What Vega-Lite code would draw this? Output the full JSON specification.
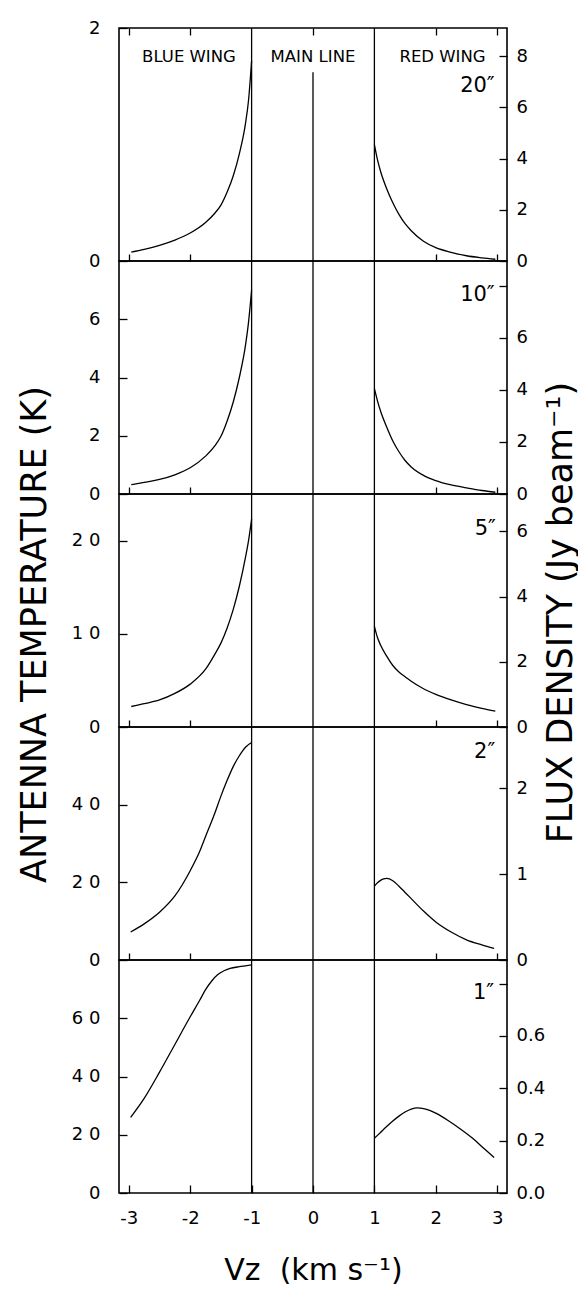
{
  "$schema": "https://vega.github.io/schema/vega-lite/v6.json",
  "background": "white",
  "padding": {"left": 16, "top": 18, "right": 0, "bottom": 0},
  "spacing": 0,
  "bounds": "flush",
  "datasets": {
    "curves": [
      {"p":1,"wing":"blue","v":-2.96,"t":0.077},{"p":1,"wing":"blue","v":-2.75,"t":0.10},{"p":1,"wing":"blue","v":-2.5,"t":0.135},{"p":1,"wing":"blue","v":-2.25,"t":0.18},{"p":1,"wing":"blue","v":-2.0,"t":0.24},{"p":1,"wing":"blue","v":-1.75,"t":0.33},{"p":1,"wing":"blue","v":-1.6,"t":0.41},{"p":1,"wing":"blue","v":-1.5,"t":0.48},{"p":1,"wing":"blue","v":-1.4,"t":0.59},{"p":1,"wing":"blue","v":-1.3,"t":0.73},{"p":1,"wing":"blue","v":-1.2,"t":0.92},{"p":1,"wing":"blue","v":-1.1,"t":1.18},{"p":1,"wing":"blue","v":-1.05,"t":1.38},{"p":1,"wing":"blue","v":-1.0,"t":1.72},
      {"p":1,"wing":"red","v":1.0,"t":1.0},{"p":1,"wing":"red","v":1.05,"t":0.87},{"p":1,"wing":"red","v":1.1,"t":0.77},{"p":1,"wing":"red","v":1.2,"t":0.62},{"p":1,"wing":"red","v":1.3,"t":0.50},{"p":1,"wing":"red","v":1.4,"t":0.40},{"p":1,"wing":"red","v":1.5,"t":0.32},{"p":1,"wing":"red","v":1.6,"t":0.26},{"p":1,"wing":"red","v":1.8,"t":0.17},{"p":1,"wing":"red","v":2.0,"t":0.115},{"p":1,"wing":"red","v":2.25,"t":0.075},{"p":1,"wing":"red","v":2.5,"t":0.045},{"p":1,"wing":"red","v":2.75,"t":0.027},{"p":1,"wing":"red","v":2.97,"t":0.015},
      {"p":2,"wing":"blue","v":-2.96,"t":0.32},{"p":2,"wing":"blue","v":-2.75,"t":0.40},{"p":2,"wing":"blue","v":-2.5,"t":0.50},{"p":2,"wing":"blue","v":-2.25,"t":0.66},{"p":2,"wing":"blue","v":-2.0,"t":0.90},{"p":2,"wing":"blue","v":-1.75,"t":1.30},{"p":2,"wing":"blue","v":-1.6,"t":1.65},{"p":2,"wing":"blue","v":-1.5,"t":1.98},{"p":2,"wing":"blue","v":-1.4,"t":2.5},{"p":2,"wing":"blue","v":-1.3,"t":3.15},{"p":2,"wing":"blue","v":-1.2,"t":4.0},{"p":2,"wing":"blue","v":-1.1,"t":5.1},{"p":2,"wing":"blue","v":-1.05,"t":5.9},{"p":2,"wing":"blue","v":-1.0,"t":7.0},
      {"p":2,"wing":"red","v":1.0,"t":3.62},{"p":2,"wing":"red","v":1.05,"t":3.2},{"p":2,"wing":"red","v":1.1,"t":2.85},{"p":2,"wing":"red","v":1.2,"t":2.3},{"p":2,"wing":"red","v":1.3,"t":1.82},{"p":2,"wing":"red","v":1.4,"t":1.45},{"p":2,"wing":"red","v":1.5,"t":1.15},{"p":2,"wing":"red","v":1.6,"t":0.93},{"p":2,"wing":"red","v":1.8,"t":0.64},{"p":2,"wing":"red","v":2.0,"t":0.46},{"p":2,"wing":"red","v":2.25,"t":0.31},{"p":2,"wing":"red","v":2.5,"t":0.21},{"p":2,"wing":"red","v":2.75,"t":0.12},{"p":2,"wing":"red","v":2.97,"t":0.06},
      {"p":3,"wing":"blue","v":-2.96,"t":2.2},{"p":3,"wing":"blue","v":-2.75,"t":2.5},{"p":3,"wing":"blue","v":-2.5,"t":2.9},{"p":3,"wing":"blue","v":-2.25,"t":3.6},{"p":3,"wing":"blue","v":-2.0,"t":4.6},{"p":3,"wing":"blue","v":-1.75,"t":6.2},{"p":3,"wing":"blue","v":-1.6,"t":7.8},{"p":3,"wing":"blue","v":-1.5,"t":9.0},{"p":3,"wing":"blue","v":-1.4,"t":10.6},{"p":3,"wing":"blue","v":-1.3,"t":12.6},{"p":3,"wing":"blue","v":-1.2,"t":15.1},{"p":3,"wing":"blue","v":-1.1,"t":18.2},{"p":3,"wing":"blue","v":-1.05,"t":20.0},{"p":3,"wing":"blue","v":-1.0,"t":22.3},
      {"p":3,"wing":"red","v":1.0,"t":10.8},{"p":3,"wing":"red","v":1.05,"t":9.6},{"p":3,"wing":"red","v":1.1,"t":8.8},{"p":3,"wing":"red","v":1.2,"t":7.6},{"p":3,"wing":"red","v":1.3,"t":6.6},{"p":3,"wing":"red","v":1.4,"t":5.9},{"p":3,"wing":"red","v":1.5,"t":5.4},{"p":3,"wing":"red","v":1.6,"t":4.9},{"p":3,"wing":"red","v":1.8,"t":4.1},{"p":3,"wing":"red","v":2.0,"t":3.5},{"p":3,"wing":"red","v":2.25,"t":2.9},{"p":3,"wing":"red","v":2.5,"t":2.4},{"p":3,"wing":"red","v":2.75,"t":2.0},{"p":3,"wing":"red","v":2.97,"t":1.7},
      {"p":4,"wing":"blue","v":-2.97,"t":7.2},{"p":4,"wing":"blue","v":-2.75,"t":9.3},{"p":4,"wing":"blue","v":-2.5,"t":12.3},{"p":4,"wing":"blue","v":-2.25,"t":16.5},{"p":4,"wing":"blue","v":-2.0,"t":23.0},{"p":4,"wing":"blue","v":-1.85,"t":27.8},{"p":4,"wing":"blue","v":-1.75,"t":31.8},{"p":4,"wing":"blue","v":-1.6,"t":37.8},{"p":4,"wing":"blue","v":-1.5,"t":42.2},{"p":4,"wing":"blue","v":-1.4,"t":46.2},{"p":4,"wing":"blue","v":-1.3,"t":49.8},{"p":4,"wing":"blue","v":-1.2,"t":52.6},{"p":4,"wing":"blue","v":-1.1,"t":54.8},{"p":4,"wing":"blue","v":-1.0,"t":56.0},
      {"p":4,"wing":"red","v":1.0,"t":19.0},{"p":4,"wing":"red","v":1.05,"t":19.9},{"p":4,"wing":"red","v":1.1,"t":20.5},{"p":4,"wing":"red","v":1.15,"t":20.9},{"p":4,"wing":"red","v":1.2,"t":21.0},{"p":4,"wing":"red","v":1.3,"t":20.4},{"p":4,"wing":"red","v":1.4,"t":19.0},{"p":4,"wing":"red","v":1.5,"t":17.4},{"p":4,"wing":"red","v":1.6,"t":15.8},{"p":4,"wing":"red","v":1.8,"t":12.6},{"p":4,"wing":"red","v":2.0,"t":9.8},{"p":4,"wing":"red","v":2.25,"t":7.2},{"p":4,"wing":"red","v":2.5,"t":5.2},{"p":4,"wing":"red","v":2.75,"t":3.9},{"p":4,"wing":"red","v":2.95,"t":3.0},
      {"p":5,"wing":"blue","v":-2.97,"t":26.0},{"p":5,"wing":"blue","v":-2.75,"t":32.5},{"p":5,"wing":"blue","v":-2.5,"t":41.5},{"p":5,"wing":"blue","v":-2.25,"t":51.0},{"p":5,"wing":"blue","v":-2.0,"t":60.5},{"p":5,"wing":"blue","v":-1.85,"t":66.0},{"p":5,"wing":"blue","v":-1.75,"t":69.8},{"p":5,"wing":"blue","v":-1.65,"t":72.8},{"p":5,"wing":"blue","v":-1.55,"t":75.0},{"p":5,"wing":"blue","v":-1.45,"t":76.3},{"p":5,"wing":"blue","v":-1.35,"t":77.1},{"p":5,"wing":"blue","v":-1.2,"t":77.7},{"p":5,"wing":"blue","v":-1.1,"t":78.0},{"p":5,"wing":"blue","v":-1.0,"t":78.3},
      {"p":5,"wing":"red","v":1.0,"t":18.8},{"p":5,"wing":"red","v":1.1,"t":20.8},{"p":5,"wing":"red","v":1.2,"t":22.8},{"p":5,"wing":"red","v":1.3,"t":24.7},{"p":5,"wing":"red","v":1.4,"t":26.4},{"p":5,"wing":"red","v":1.5,"t":27.8},{"p":5,"wing":"red","v":1.6,"t":28.8},{"p":5,"wing":"red","v":1.7,"t":29.2},{"p":5,"wing":"red","v":1.8,"t":29.0},{"p":5,"wing":"red","v":1.9,"t":28.4},{"p":5,"wing":"red","v":2.0,"t":27.4},{"p":5,"wing":"red","v":2.2,"t":24.9},{"p":5,"wing":"red","v":2.4,"t":22.0},{"p":5,"wing":"red","v":2.6,"t":18.8},{"p":5,"wing":"red","v":2.8,"t":15.0},{"p":5,"wing":"red","v":2.95,"t":12.2}
    ],
    "dividers": [{"v": -1}, {"v": 0}, {"v": 1}],
    "mainline": [{"v": 0, "t0": 0, "t1": 1.62}],
    "regions": [
      {"v": -2.02, "t": 1.75, "label": "BLUE WING"},
      {"v": 0, "t": 1.75, "label": "MAIN LINE"},
      {"v": 2.11, "t": 1.75, "label": "RED WING"}
    ],
    "beams": [
      {"p": 1, "v": 2.96, "t": 1.5, "label": "20″"},
      {"p": 2, "v": 2.96, "t": 6.83, "label": "10″"},
      {"p": 3, "v": 2.98, "t": 21.2, "label": "5″"},
      {"p": 4, "v": 2.97, "t": 53.6, "label": "2″"},
      {"p": 5, "v": 2.95, "t": 68.6, "label": "1″"}
    ],
    "anchor": [{"f": 0}]
  },
  "vconcat": [
    {
      "width": 388, "height": 233,
      "layer": [
        {
          "layer": [
            {
              "data": {"name": "curves"},
              "transform": [{"filter": "datum.p == 1"}],
              "mark": {"type": "line", "color": "black", "strokeWidth": 1.3, "interpolate": "monotone"},
              "encoding": {
                "x": {"field": "v", "type": "quantitative", "scale": {"domain": [-3.16, 3.16], "nice": false, "zero": false},
                      "axis": {"values": [-3, -2, 2, 3], "tickSize": -7, "labels": false, "title": null}},
                "y": {"field": "t", "type": "quantitative", "scale": {"domain": [0, 2], "nice": false},
                      "axis": {"values": [0, 1, 2], "format": "d", "tickSize": -8, "labelPadding": 27, "title": null}},
                "detail": {"field": "wing"}
              }
            },
            {
              "data": {"name": "dividers"},
              "transform": [{"filter": "datum.v != 0"}],
              "mark": {"type": "rule", "color": "black", "strokeWidth": 1.3},
              "encoding": {
                "x": {"field": "v", "type": "quantitative", "scale": {"domain": [-3.16, 3.16], "nice": false, "zero": false},
                      "axis": {"orient": "top", "values": [-3, -2, 0, 2, 3], "tickSize": -7, "labels": false, "title": null}}
              }
            },
            {
              "data": {"name": "mainline"},
              "mark": {"type": "rule", "color": "black", "strokeWidth": 1.3},
              "encoding": {
                "x": {"field": "v", "type": "quantitative", "scale": {"domain": [-3.16, 3.16], "nice": false, "zero": false}, "axis": null},
                "y": {"field": "t0", "type": "quantitative", "scale": {"domain": [0, 2], "nice": false}},
                "y2": {"field": "t1"}
              }
            },
            {
              "data": {"name": "regions"},
              "mark": {"type": "text", "align": "center", "baseline": "middle", "font": "DejaVu Sans", "fontSize": 16.5, "color": "black"},
              "encoding": {
                "x": {"field": "v", "type": "quantitative", "scale": {"domain": [-3.16, 3.16], "nice": false, "zero": false}, "axis": null},
                "y": {"field": "t", "type": "quantitative", "scale": {"domain": [0, 2], "nice": false}},
                "text": {"field": "label"}
              }
            },
            {
              "data": {"name": "beams"},
              "transform": [{"filter": "datum.p == 1"}],
              "mark": {"type": "text", "align": "right", "baseline": "middle", "font": "DejaVu Sans", "fontSize": 21, "color": "black"},
              "encoding": {
                "x": {"field": "v", "type": "quantitative", "scale": {"domain": [-3.16, 3.16], "nice": false, "zero": false}, "axis": null},
                "y": {"field": "t", "type": "quantitative", "scale": {"domain": [0, 2], "nice": false}},
                "text": {"field": "label"}
              }
            }
          ],
          "resolve": {"axis": {"x": "independent"}}
        },
        {
          "data": {"name": "anchor"},
          "mark": {"type": "point", "opacity": 0},
          "encoding": {
            "y": {"field": "f", "type": "quantitative", "scale": {"domain": [0, 9.1], "nice": false},
                  "axis": {"orient": "right", "values": [0, 2, 4, 6, 8], "format": "d", "tickSize": -8, "labelPadding": 17, "title": null}}
          }
        }
      ],
      "resolve": {"scale": {"y": "independent"}}
    },
    {
      "width": 388, "height": 233,
      "layer": [
        {
          "layer": [
            {
              "data": {"name": "curves"},
              "transform": [{"filter": "datum.p == 2"}],
              "mark": {"type": "line", "color": "black", "strokeWidth": 1.3, "interpolate": "monotone"},
              "encoding": {
                "x": {"field": "v", "type": "quantitative", "scale": {"domain": [-3.16, 3.16], "nice": false, "zero": false},
                      "axis": {"values": [-3, -2, 2, 3], "tickSize": -7, "labels": false, "title": null}},
                "y": {"field": "t", "type": "quantitative", "scale": {"domain": [0, 8], "nice": false},
                      "axis": {"values": [0, 2, 4, 6], "format": "d", "tickSize": -8, "labelPadding": 27, "title": null}},
                "detail": {"field": "wing"}
              }
            },
            {
              "data": {"name": "dividers"},
              "mark": {"type": "rule", "color": "black", "strokeWidth": 1.3},
              "encoding": {
                "x": {"field": "v", "type": "quantitative", "scale": {"domain": [-3.16, 3.16], "nice": false, "zero": false}}
              }
            },
            {
              "data": {"name": "beams"},
              "transform": [{"filter": "datum.p == 2"}],
              "mark": {"type": "text", "align": "right", "baseline": "middle", "font": "DejaVu Sans", "fontSize": 21, "color": "black"},
              "encoding": {
                "x": {"field": "v", "type": "quantitative", "scale": {"domain": [-3.16, 3.16], "nice": false, "zero": false}},
                "y": {"field": "t", "type": "quantitative", "scale": {"domain": [0, 8], "nice": false}},
                "text": {"field": "label"}
              }
            }
          ]
        },
        {
          "data": {"name": "anchor"},
          "mark": {"type": "point", "opacity": 0},
          "encoding": {
            "y": {"field": "f", "type": "quantitative", "scale": {"domain": [0, 8.95], "nice": false},
                  "axis": {"orient": "right", "values": [0, 2, 4, 6, 8], "format": "d", "tickSize": -8, "labelPadding": 17, "title": null,
                           "labelExpr": "datum.value > 7 ? '' : datum.label"}}
          }
        }
      ],
      "resolve": {"scale": {"y": "independent"}}
    },
    {
      "width": 388, "height": 233,
      "layer": [
        {
          "layer": [
            {
              "data": {"name": "curves"},
              "transform": [{"filter": "datum.p == 3"}],
              "mark": {"type": "line", "color": "black", "strokeWidth": 1.3, "interpolate": "monotone"},
              "encoding": {
                "x": {"field": "v", "type": "quantitative", "scale": {"domain": [-3.16, 3.16], "nice": false, "zero": false},
                      "axis": {"values": [-3, -2, 2, 3], "tickSize": -7, "labels": false, "title": null}},
                "y": {"field": "t", "type": "quantitative", "scale": {"domain": [0, 25], "nice": false},
                      "axis": {"values": [0, 10, 20], "format": "d", "tickSize": -8, "labelPadding": 27,
                               "title": "ANTENNA TEMPERATURE (K)", "titleFontSize": 35, "titleAngle": 270,
                               "titleAlign": "center", "titleBaseline": "bottom", "titleX": -67, "titleY": 140}},
                "detail": {"field": "wing"}
              }
            },
            {
              "data": {"name": "dividers"},
              "mark": {"type": "rule", "color": "black", "strokeWidth": 1.3},
              "encoding": {
                "x": {"field": "v", "type": "quantitative", "scale": {"domain": [-3.16, 3.16], "nice": false, "zero": false}}
              }
            },
            {
              "data": {"name": "beams"},
              "transform": [{"filter": "datum.p == 3"}],
              "mark": {"type": "text", "align": "right", "baseline": "middle", "font": "DejaVu Sans", "fontSize": 21, "color": "black"},
              "encoding": {
                "x": {"field": "v", "type": "quantitative", "scale": {"domain": [-3.16, 3.16], "nice": false, "zero": false}},
                "y": {"field": "t", "type": "quantitative", "scale": {"domain": [0, 25], "nice": false}},
                "text": {"field": "label"}
              }
            }
          ]
        },
        {
          "data": {"name": "anchor"},
          "mark": {"type": "point", "opacity": 0},
          "encoding": {
            "y": {"field": "f", "type": "quantitative", "scale": {"domain": [0, 7.15], "nice": false},
                  "axis": {"orient": "right", "values": [0, 2, 4, 6], "format": "d", "tickSize": -8, "labelPadding": 17,
                           "title": "FLUX DENSITY (Jy beam⁻¹)", "titleFontSize": 35, "titleAngle": 270,
                           "titleAlign": "center", "titleBaseline": "top", "titleX": 36, "titleY": 118}}
          }
        }
      ],
      "resolve": {"scale": {"y": "independent"}}
    },
    {
      "width": 388, "height": 233,
      "layer": [
        {
          "layer": [
            {
              "data": {"name": "curves"},
              "transform": [{"filter": "datum.p == 4"}],
              "mark": {"type": "line", "color": "black", "strokeWidth": 1.3, "interpolate": "monotone"},
              "encoding": {
                "x": {"field": "v", "type": "quantitative", "scale": {"domain": [-3.16, 3.16], "nice": false, "zero": false},
                      "axis": {"values": [-3, -2, 2, 3], "tickSize": -7, "labels": false, "title": null}},
                "y": {"field": "t", "type": "quantitative", "scale": {"domain": [0, 60], "nice": false},
                      "axis": {"values": [0, 20, 40], "format": "d", "tickSize": -8, "labelPadding": 27, "title": null}},
                "detail": {"field": "wing"}
              }
            },
            {
              "data": {"name": "dividers"},
              "mark": {"type": "rule", "color": "black", "strokeWidth": 1.3},
              "encoding": {
                "x": {"field": "v", "type": "quantitative", "scale": {"domain": [-3.16, 3.16], "nice": false, "zero": false}}
              }
            },
            {
              "data": {"name": "beams"},
              "transform": [{"filter": "datum.p == 4"}],
              "mark": {"type": "text", "align": "right", "baseline": "middle", "font": "DejaVu Sans", "fontSize": 21, "color": "black"},
              "encoding": {
                "x": {"field": "v", "type": "quantitative", "scale": {"domain": [-3.16, 3.16], "nice": false, "zero": false}},
                "y": {"field": "t", "type": "quantitative", "scale": {"domain": [0, 60], "nice": false}},
                "text": {"field": "label"}
              }
            }
          ]
        },
        {
          "data": {"name": "anchor"},
          "mark": {"type": "point", "opacity": 0},
          "encoding": {
            "y": {"field": "f", "type": "quantitative", "scale": {"domain": [0, 2.71], "nice": false},
                  "axis": {"orient": "right", "values": [0, 1, 2], "format": "d", "tickSize": -8, "labelPadding": 17, "title": null}}
          }
        }
      ],
      "resolve": {"scale": {"y": "independent"}}
    },
    {
      "width": 388, "height": 233,
      "layer": [
        {
          "layer": [
            {
              "data": {"name": "curves"},
              "transform": [{"filter": "datum.p == 5"}],
              "mark": {"type": "line", "color": "black", "strokeWidth": 1.3, "interpolate": "monotone"},
              "encoding": {
                "x": {"field": "v", "type": "quantitative", "scale": {"domain": [-3.16, 3.16], "nice": false, "zero": false},
                      "axis": {"values": [-3, -2, -1, 0, 1, 2, 3], "format": "d", "tickSize": -8, "labelPadding": 24,
                               "labelExpr": "replace(datum.label, '−', '-')",
                               "title": "Vz\u00a0\u00a0(km s⁻¹)", "titleFontSize": 30, "titleBaseline": "alphabetic", "titleY": 86}},
                "y": {"field": "t", "type": "quantitative", "scale": {"domain": [0, 80], "nice": false},
                      "axis": {"values": [0, 20, 40, 60], "format": "d", "tickSize": -8, "labelPadding": 27, "title": null}},
                "detail": {"field": "wing"}
              }
            },
            {
              "data": {"name": "dividers"},
              "mark": {"type": "rule", "color": "black", "strokeWidth": 1.3},
              "encoding": {
                "x": {"field": "v", "type": "quantitative", "scale": {"domain": [-3.16, 3.16], "nice": false, "zero": false}}
              }
            },
            {
              "data": {"name": "beams"},
              "transform": [{"filter": "datum.p == 5"}],
              "mark": {"type": "text", "align": "right", "baseline": "middle", "font": "DejaVu Sans", "fontSize": 21, "color": "black"},
              "encoding": {
                "x": {"field": "v", "type": "quantitative", "scale": {"domain": [-3.16, 3.16], "nice": false, "zero": false}},
                "y": {"field": "t", "type": "quantitative", "scale": {"domain": [0, 80], "nice": false}},
                "text": {"field": "label"}
              }
            }
          ]
        },
        {
          "data": {"name": "anchor"},
          "mark": {"type": "point", "opacity": 0},
          "encoding": {
            "y": {"field": "f", "type": "quantitative", "scale": {"domain": [0, 0.89], "nice": false},
                  "axis": {"orient": "right", "values": [0, 0.2, 0.4, 0.6, 0.8], "tickSize": -8, "labelPadding": 17, "title": null,
                           "labelExpr": "datum.value > 0.7 ? '' : format(datum.value, '.1f')"}}
          }
        }
      ],
      "resolve": {"scale": {"y": "independent"}}
    }
  ],
  "config": {
    "view": {"stroke": "black", "strokeWidth": 1.6},
    "axis": {
      "domain": false, "grid": false,
      "labelFont": "DejaVu Sans", "labelFontSize": 18, "labelColor": "black",
      "labelOverlap": false, "labelFlush": false,
      "tickColor": "black", "tickWidth": 1.3,
      "titleFont": "DejaVu Sans", "titleFontWeight": "normal", "titleColor": "black"
    },
    "axisY": {
      "labelExpr": "datum.value >= 10 ? slice(datum.label, 0, 1) + ' ' + slice(datum.label, 1) : datum.label"
    }
  }
}
